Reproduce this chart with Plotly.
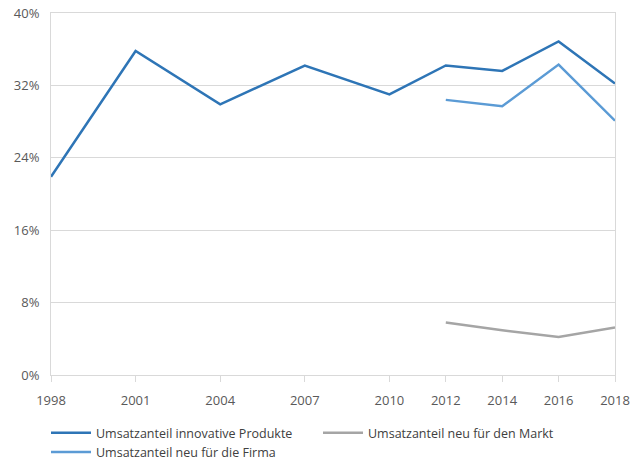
import plotly.graph_objs as go

# data
years = [1998, 2001, 2004, 2007, 2010, 2012, 2014, 2016, 2018]
years_new = [2012, 2014, 2016, 2018]
innovative = [21.9, 35.8, 29.9, 34.2, 31.0, 34.2, 33.6, 36.85, 32.2]
neu_markt = [5.8, 4.95, 4.2, 5.25]
neu_firma = [30.4, 29.7, 34.3, 28.1]

y_ticks = [0, 8, 16, 24, 32, 40]

# colors
COLOR_1 = '#2E75B6'
COLOR_2 = '#5B9BD5'
COLOR_3 = '#A5A5A5'
GRID = '#D9D9D9'
TEXT = '#595959'

W, H = 631, 461

fig = go.Figure()
fig.add_trace(go.Scatter(
    x=years, y=innovative, mode='lines', name='Umsatzanteil innovative Produkte',
    line=dict(color=COLOR_1, width=2.5)
))
fig.add_trace(go.Scatter(
    x=years_new, y=neu_markt, mode='lines', name='Umsatzanteil neu für den Markt',
    line=dict(color=COLOR_3, width=2.5)
))
fig.add_trace(go.Scatter(
    x=years_new, y=neu_firma, mode='lines', name='Umsatzanteil neu für die Firma',
    line=dict(color=COLOR_2, width=2.5)
))

fig.update_layout(
    width=W,
    height=H,
    plot_bgcolor='white',
    paper_bgcolor='white',
    margin=dict(l=51, r=16, t=13, b=86, autoexpand=False),
    font=dict(family='Open Sans', size=12, color=TEXT),
    showlegend=True,
    legend=dict(
        orientation='h',
        xref='container',
        x=46 / W, xanchor='left',
        yref='container',
        y=1 - 418 / H, yanchor='top',
        entrywidth=217, entrywidthmode='pixels',
        itemwidth=40,
        tracegroupgap=0,
        font=dict(size=12.5, color='#404040'),
    ),
    xaxis=dict(
        range=[1998, 2018],
        tickmode='array',
        tickvals=years,
        ticktext=[str(y) for y in years],
        showgrid=False,
        zeroline=False,
        showline=True,
        linecolor=GRID,
        linewidth=1,
        mirror=True,
        ticks='outside',
        ticklen=6,
        tickcolor=GRID,
        ticklabelstandoff=7,
        ticklabeloverflow='allow',
        tickfont=dict(size=13, color=TEXT),
    ),
    yaxis=dict(
        range=[0, 40],
        tickmode='array',
        tickvals=y_ticks,
        ticktext=[f'{v}%' for v in y_ticks],
        showgrid=True,
        gridcolor=GRID,
        zeroline=False,
        showline=True,
        linecolor=GRID,
        linewidth=1,
        mirror=True,
        ticks='',
        ticklabelstandoff=8,
        ticklabeloverflow='allow',
        tickfont=dict(size=13, color=TEXT),
    ),
)

# drop the default body margin so the figure fills the window
fig.write_html(
    "out.html",
    config={'displayModeBar': False},
    post_script="document.body.style.margin='0';document.body.style.overflow='hidden';",
)
